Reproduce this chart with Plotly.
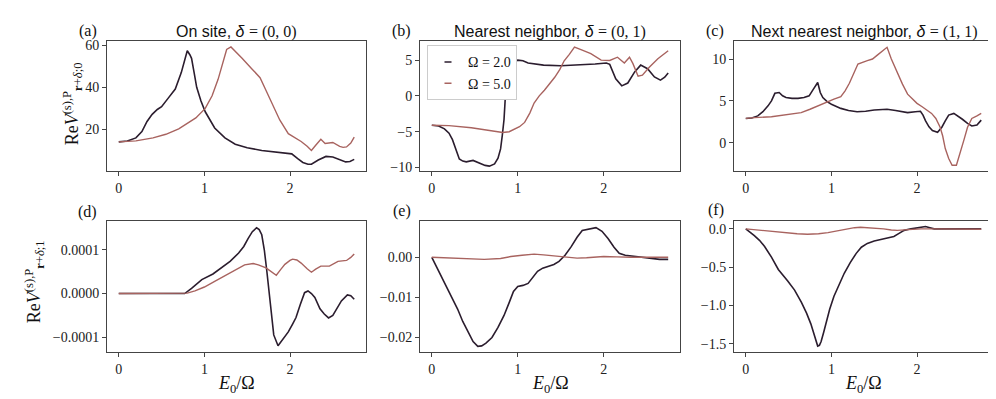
import plotly.graph_objects as go

# colours of the two driving frequencies
C_LOW = '#2b1d2e'
C_HIGH = '#a8635f'
SERIF = 'Liberation Serif'
SANS = 'Liberation Sans'

omega_labels = ['Ω = 2.0', 'Ω = 5.0']

# (a) on site, delta = (0,0)
a_x_low = [0, 0.1, 0.2, 0.27, 0.33, 0.39, 0.45, 0.5, 0.58, 0.66, 0.73, 0.80, 0.83, 0.85, 0.88, 0.91, 0.96, 1.01, 1.12, 1.24, 1.36, 1.5, 1.67, 1.85, 2.02, 2.09, 2.15, 2.21, 2.25, 2.33, 2.42, 2.5, 2.58, 2.65, 2.7, 2.75]
a_y_low = [14.1, 14.5, 16.0, 19.0, 23.8, 27.2, 29.5, 30.8, 35.0, 39.2, 47.0, 57.4, 55.5, 53.8, 47.0, 40.0, 33.5, 28.4, 20.7, 16.0, 13.0, 11.3, 10.0, 9.0, 8.4, 6.1, 4.3, 3.5, 3.5, 5.5, 7.2, 6.9, 5.7, 4.6, 4.8, 5.8]
a_x_high = [0, 0.2, 0.4, 0.55, 0.7, 0.78, 0.9, 1.01, 1.09, 1.16, 1.21, 1.26, 1.31, 1.37, 1.44, 1.55, 1.65, 1.72, 1.78, 1.88, 1.98, 2.05, 2.13, 2.2, 2.25, 2.3, 2.36, 2.41, 2.5, 2.58, 2.62, 2.66, 2.71, 2.75]
a_y_high = [14.1, 14.6, 16.0, 17.7, 20.3, 22.3, 25.5, 30.0, 36.0, 43.8, 51.0, 58.0, 59.2, 56.5, 53.8, 49.0, 44.6, 38.5, 33.0, 24.5, 18.0, 16.3, 14.3, 12.0, 10.0, 12.5, 15.3, 13.3, 13.8, 12.0, 11.5, 11.7, 13.5, 16.4]

# (b) nearest neighbor, delta = (0,1)
b_x_low = [0, 0.08, 0.147, 0.2, 0.24, 0.28, 0.32, 0.36, 0.40, 0.48, 0.57, 0.62, 0.67, 0.73, 0.77, 0.80, 0.82, 0.84, 0.86, 0.88, 0.90, 0.94, 1.0, 1.06, 1.12, 1.30, 1.50, 1.70, 1.90, 2.03, 2.07, 2.14, 2.21, 2.28, 2.36, 2.43, 2.51, 2.59, 2.66, 2.71, 2.75]
b_y_low = [-4.1, -4.2, -4.6, -5.2, -6.1, -7.5, -8.8, -9.1, -9.2, -9.0, -9.4, -9.7, -9.8, -9.5, -8.7, -7.4, -5.5, -3.3, 0.8, 2.6, 3.6, 4.6, 5.0, 4.9, 4.6, 4.3, 4.2, 4.3, 4.45, 4.6, 4.4, 2.4, 1.4, 1.8, 3.35, 4.3, 3.8, 2.65, 2.2, 2.6, 3.2]
b_x_high = [0, 0.2, 0.46, 0.65, 0.825, 0.9, 0.96, 1.02, 1.08, 1.14, 1.19, 1.25, 1.31, 1.37, 1.43, 1.49, 1.54, 1.60, 1.66, 1.75, 1.85, 1.97, 2.07, 2.16, 2.24, 2.30, 2.34, 2.40, 2.45, 2.53, 2.63, 2.75]
b_y_high = [-4.1, -4.15, -4.45, -4.8, -5.1, -5.0, -4.7, -4.3, -3.7, -2.4, -1.0, 0.0, 0.8, 1.7, 2.6, 3.7, 4.9, 5.8, 6.8, 6.4, 5.9, 5.0, 4.95, 5.4, 4.6, 5.4, 4.5, 2.75, 2.9, 4.0, 5.2, 6.3]

# (c) next nearest neighbor, delta = (1,1)
c_x_low = [0, 0.07, 0.14, 0.2, 0.26, 0.30, 0.34, 0.39, 0.43, 0.47, 0.54, 0.61, 0.68, 0.74, 0.79, 0.84, 0.87, 0.90, 0.95, 1.0, 1.11, 1.2, 1.30, 1.40, 1.50, 1.65, 1.75, 1.89, 1.98, 2.04, 2.07, 2.10, 2.14, 2.18, 2.24, 2.29, 2.33, 2.37, 2.43, 2.48, 2.53, 2.59, 2.64, 2.70, 2.75]
c_y_low = [2.9, 2.95, 3.2, 3.7, 4.4, 5.0, 5.9, 6.0, 5.6, 5.4, 5.3, 5.3, 5.4, 5.6, 6.4, 7.2, 6.0, 5.4, 4.9, 4.6, 4.1, 3.85, 3.7, 3.75, 3.9, 4.0, 3.85, 3.6, 3.7, 3.75, 3.3, 2.6, 1.9, 1.45, 1.25, 1.85, 2.6, 3.3, 3.5, 3.2, 2.8, 2.3, 2.0, 2.1, 2.7]
c_x_high = [0, 0.1, 0.3, 0.5, 0.647, 0.75, 0.84, 0.94, 1.03, 1.11, 1.16, 1.21, 1.26, 1.31, 1.42, 1.48, 1.54, 1.6, 1.65, 1.7, 1.77, 1.83, 1.89, 1.95, 2.0, 2.06, 2.12, 2.17, 2.22, 2.27, 2.30, 2.33, 2.37, 2.41, 2.46, 2.51, 2.55, 2.59, 2.64, 2.7, 2.75]
c_y_high = [2.9, 3.0, 3.1, 3.35, 3.6, 4.0, 4.4, 4.8, 5.2, 5.5, 6.2, 7.1, 8.3, 9.4, 9.8, 10.0, 10.5, 11.0, 11.4, 10.0, 8.3, 7.0, 5.8, 5.2, 4.7, 4.3, 3.9, 3.5, 2.9, 1.85, 0.8, -0.7, -1.9, -2.7, -2.7, -1.1, 0.4, 1.85, 2.9, 3.2, 3.5]

# (d) on site, P = 1 (units of 1e-4)
d_x_low = [0, 0.75, 0.77, 0.85, 0.97, 1.1, 1.20, 1.30, 1.40, 1.46, 1.51, 1.56, 1.61, 1.64, 1.67, 1.70, 1.73, 1.76, 1.79, 1.81, 1.86, 1.92, 1.98, 2.03, 2.07, 2.12, 2.17, 2.21, 2.25, 2.29, 2.35, 2.40, 2.45, 2.50, 2.55, 2.60, 2.67, 2.71, 2.75]
d_y_low = [0, 0.0, 0.0, 0.12, 0.32, 0.45, 0.59, 0.74, 0.93, 1.08, 1.26, 1.42, 1.51, 1.47, 1.35, 1.0, 0.5, 0.0, -0.6, -0.95, -1.2, -1.05, -0.88, -0.7, -0.55, -0.25, 0.02, 0.06, 0.0, -0.09, -0.35, -0.47, -0.56, -0.5, -0.35, -0.17, -0.03, -0.05, -0.13]
d_x_high = [0, 0.7, 0.8, 0.89, 1.0, 1.12, 1.24, 1.36, 1.47, 1.57, 1.63, 1.72, 1.78, 1.84, 1.89, 1.94, 2.0, 2.03, 2.08, 2.13, 2.2, 2.25, 2.3, 2.36, 2.46, 2.56, 2.66, 2.71, 2.75]
d_y_high = [0, 0.0, 0.01, 0.06, 0.15, 0.28, 0.41, 0.55, 0.66, 0.69, 0.66, 0.59, 0.5, 0.42, 0.55, 0.67, 0.76, 0.79, 0.77, 0.70, 0.57, 0.49, 0.56, 0.63, 0.63, 0.74, 0.76, 0.83, 0.91]

# (e) nearest neighbor, P = 1 (units of 1e-2)
e_x_low = [0, 0.07, 0.147, 0.22, 0.30, 0.36, 0.42, 0.48, 0.535, 0.58, 0.63, 0.70, 0.77, 0.84, 0.90, 0.95, 1.0, 1.06, 1.12, 1.18, 1.23, 1.29, 1.35, 1.42, 1.48, 1.55, 1.62, 1.69, 1.75, 1.83, 1.91, 1.98, 2.05, 2.12, 2.18, 2.25, 2.32, 2.45, 2.55, 2.65, 2.75]
e_y_low = [0, -0.3, -0.64, -0.96, -1.29, -1.6, -1.86, -2.1, -2.22, -2.21, -2.14, -2.0, -1.75, -1.45, -1.13, -0.85, -0.73, -0.7, -0.65, -0.48, -0.35, -0.27, -0.23, -0.18, -0.10, 0.05, 0.26, 0.5, 0.67, 0.7, 0.74, 0.65, 0.47, 0.25, 0.10, 0.05, 0.03, 0.0, -0.02, -0.05, -0.05]
e_x_high = [0, 0.3, 0.61, 0.8, 0.92, 1.05, 1.19, 1.3, 1.46, 1.6, 1.69, 1.8, 2.0, 2.15, 2.32, 2.75]
e_y_high = [0, -0.03, -0.05, -0.03, 0.02, 0.05, 0.08, 0.06, 0.02, -0.01, -0.02, -0.01, 0.02, 0.01, 0.0, 0.0]

# (f) next nearest neighbor, P = 1
f_x_low = [0, 0.05, 0.10, 0.16, 0.22, 0.30, 0.38, 0.49, 0.57, 0.65, 0.71, 0.76, 0.80, 0.82, 0.84, 0.86, 0.88, 0.91, 0.94, 0.98, 1.03, 1.09, 1.15, 1.22, 1.29, 1.35, 1.42, 1.50, 1.58, 1.66, 1.73, 1.79, 1.85, 1.93, 2.0, 2.05, 2.10, 2.15, 2.20, 2.75]
f_y_low = [0, -0.04, -0.09, -0.15, -0.23, -0.37, -0.53, -0.68, -0.8, -0.96, -1.1, -1.24, -1.38, -1.45, -1.53, -1.52, -1.47, -1.35, -1.22, -1.05, -0.88, -0.72, -0.58, -0.44, -0.32, -0.24, -0.19, -0.16, -0.14, -0.12, -0.10, -0.06, -0.02, 0.0, 0.01, 0.025, 0.03, 0.015, 0.0, 0.0]
f_x_high = [0, 0.13, 0.26, 0.45, 0.6, 0.72, 0.85, 0.96, 1.08, 1.19, 1.27, 1.34, 1.45, 1.55, 1.61, 1.7, 1.77, 1.9, 2.05, 2.2, 2.75]
f_y_high = [0, -0.015, -0.03, -0.05, -0.065, -0.07, -0.065, -0.05, -0.025, 0.0, 0.015, 0.02, 0.015, 0.005, 0.0, -0.015, -0.02, -0.01, 0.0, 0.0, -0.005]

panels = [
    (a_x_low, a_y_low, a_x_high, a_y_high, 1),
    (b_x_low, b_y_low, b_x_high, b_y_high, 1),
    (c_x_low, c_y_low, c_x_high, c_y_high, 1),
    (d_x_low, d_y_low, d_x_high, d_y_high, 1e-4),
    (e_x_low, e_y_low, e_x_high, e_y_high, 1e-2),
    (f_x_low, f_y_low, f_x_high, f_y_high, 1),
]

fig = go.Figure()
for i, (xl, yl, xh, yh, scale) in enumerate(panels):
    ax = '' if i == 0 else str(i + 1)
    fig.add_trace(go.Scatter(x=xl, y=[v * scale for v in yl], mode='lines', line=dict(color=C_LOW, width=1.6),
                             xaxis='x' + ax, yaxis='y' + ax, showlegend=False))
    fig.add_trace(go.Scatter(x=xh, y=[v * scale for v in yh], mode='lines', line=dict(color=C_HIGH, width=1.4),
                             xaxis='x' + ax, yaxis='y' + ax, showlegend=False))

# legend entries with short dashes (placed in panel b)
for name, col in zip(omega_labels, [C_LOW, C_HIGH]):
    fig.add_trace(go.Scatter(x=[None], y=[None], mode='markers', name=name, xaxis='x2', yaxis='y2',
                             marker=dict(symbol='line-ew', size=5, line=dict(color=col, width=1.5))))

W, H = 996, 399
xdoms = [(99, 358), (412, 672), (726, 985)]
ydoms = [(31, 163), (214, 347)]
yranges = [(0.2, 61.8), (-10.5, 7.6), (-3.4, 12.1), (-1.34e-4, 1.66e-4), (-0.0236, 0.009), (-1.606, 0.099)]
ydticks = [20, 5, 5, 1e-4, 0.01, 0.5]
yformats = ['d', 'd', 'd', '.4f', '.2f', '.1f']

tickfont = dict(family=SERIF, size=14, color='#222')
layout = {}
for i in range(6):
    r, c = divmod(i, 3)
    ax = '' if i == 0 else str(i + 1)
    common = dict(showline=True, linecolor='#444', linewidth=1, mirror=True, ticks='outside', ticklen=4,
                  tickcolor='#444', tickfont=tickfont, showgrid=False, zeroline=False)
    layout['xaxis' + ax] = dict(domain=[xdoms[c][0] / W, xdoms[c][1] / W], range=[-0.1375, 2.8875],
                                tickvals=[0, 1, 2], anchor='y' + ax, **common)
    layout['yaxis' + ax] = dict(domain=[1 - ydoms[r][1] / H, 1 - ydoms[r][0] / H], range=list(yranges[i]),
                                dtick=ydticks[i], tickformat=yformats[i], anchor='x' + ax, **common)

titles = [
    'On site, <i>δ</i> <span style="font-family:Liberation Serif">= (0, 0)</span>',
    'Nearest neighbor, <i>δ</i> <span style="font-family:Liberation Serif">= (0, 1)</span>',
    'Next nearest neighbor, <i>δ</i> <span style="font-family:Liberation Serif">= (1, 1)</span>',
]
annotations = []
for c, t in enumerate(titles):
    annotations.append(dict(text=t, x=(xdoms[c][0] + xdoms[c][1]) / 2 / W, y=1 - 21 / H, xref='paper', yref='paper',
                            showarrow=False, xanchor='center', yanchor='middle', font=dict(family=SANS, size=16, color='#111')))

panel_labels = ['(a)', '(b)', '(c)', '(d)', '(e)', '(f)']
label_pos = [(80, 20), (393, 20), (707, 20), (79, 205), (394, 204), (708, 203)]
for lab, (px, py) in zip(panel_labels, label_pos):
    annotations.append(dict(text=lab, x=px / W, y=1 - py / H, xref='paper', yref='paper', showarrow=False,
                            xanchor='center', yanchor='middle', font=dict(family=SERIF, size=16, color='#111')))

ylabels = ['Re<i>V</i><sup>(s),P</sup><sub><b>r</b>+<i>δ</i>;0</sub>', 'Re<i>V</i><sup>(s),P</sup><sub><b>r</b>+<i>δ</i>;1</sub>']
for lab, (px, py) in zip(ylabels, [(64, 94), (26, 276)]):
    annotations.append(dict(text=lab, x=px / W, y=1 - py / H, xref='paper', yref='paper', showarrow=False,
                            textangle=-90, xanchor='center', yanchor='middle', font=dict(family=SERIF, size=18, color='#111')))

for c in range(3):
    annotations.append(dict(text='<i>E</i><sub>0</sub>/Ω', x=(xdoms[c][0] + xdoms[c][1]) / 2 / W, y=1 - 380 / H,
                            xref='paper', yref='paper', showarrow=False, xanchor='center', yanchor='middle',
                            font=dict(family=SERIF, size=18, color='#111')))

fig.update_layout(**layout)
fig.update_layout(
    width=W, height=H, margin=dict(l=0, r=0, t=0, b=0),
    plot_bgcolor='white', paper_bgcolor='white',
    annotations=annotations,
    legend=dict(x=419 / W, y=1 - 35 / H, xanchor='left', yanchor='top', bgcolor='white', bordercolor='#ccc',
                borderwidth=1, font=dict(family=SERIF, size=14, color='#111'), itemwidth=30,
                tracegroupgap=0),
)

fig.write_html('out.html')
